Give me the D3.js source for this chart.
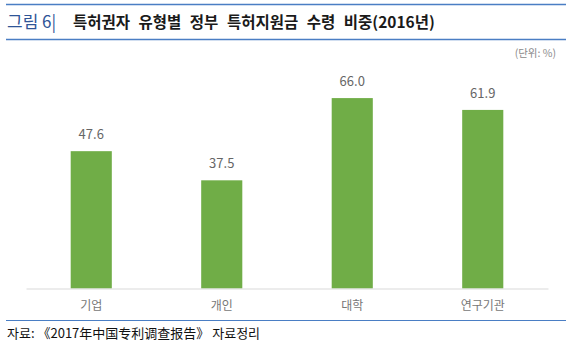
<!DOCTYPE html>
<html>
<head>
<meta charset="utf-8">
<script src="https://cdn.jsdelivr.net/npm/d3@7"></script>
<style>
  body { margin: 0; background: #fff; }
  text { font-family: "Noto Sans CJK KR", "Noto Sans", sans-serif; }
</style>
</head>
<body>
<div id="chart"></div>
<script>
var categories = ["기업", "개인", "대학", "연구기관"];
var values = [47.6, 37.5, 66.0, 61.9];
var titleLead = "그림 6|";
var titleText = "특허권자 유형별 정부 특허지원금 수령 비중(2016년)";
var unitText = "(단위: %)";
var sourceText = "자료: 《2017年中国专利调查报告》 자료정리";

var width = 574, height = 350;
var svg = d3.select("#chart").append("svg")
  .attr("width", width)
  .attr("height", height);

// header lines + title
svg.append("line").attr("x1", 6).attr("x2", 566).attr("y1", 4.5).attr("y2", 4.5)
  .attr("stroke", "#4a7ec4").attr("stroke-width", 1.5);
svg.append("line").attr("x1", 6).attr("x2", 566).attr("y1", 39.5).attr("y2", 39.5)
  .attr("stroke", "#4a7ec4").attr("stroke-width", 1.5);

svg.append("text").attr("x", 7).attr("y", 28).attr("font-size", 17)
  .attr("fill", "#2f5597").text(titleLead);
svg.append("text").attr("x", 73).attr("y", 28).attr("font-size", 15.5)
  .attr("font-weight", "bold").attr("fill", "#1a1a1a")
  .attr("word-spacing", 5).text(titleText);

svg.append("text").attr("x", 556).attr("y", 57).attr("text-anchor", "end")
  .attr("font-size", 10.5).attr("fill", "#8a8a8a").text(unitText);

// scales
var x = d3.scaleBand().domain(categories).range([26, 548]).paddingInner(0.685).paddingOuter(0.3425);
var y = d3.scaleLinear().domain([0, 100]).range([288.5, 0]);

var g = svg.append("g");

g.selectAll("rect.bar")
  .data(values)
  .enter()
  .append("rect")
  .attr("class", "bar")
  .attr("x", function(d, i) { return x(categories[i]); })
  .attr("width", x.bandwidth())
  .attr("y", function(d) { return y(d); })
  .attr("height", function(d) { return y(0) - y(d); })
  .attr("fill", "#70ad47");

g.selectAll("text.val")
  .data(values)
  .enter()
  .append("text")
  .attr("class", "val")
  .attr("x", function(d, i) { return x(categories[i]) + x.bandwidth() / 2; })
  .attr("y", function(d) { return y(d) - 12; })
  .attr("text-anchor", "middle")
  .attr("font-size", 13)
  .attr("fill", "#666")
  .text(function(d) { return d.toFixed(1); });

// x axis
var xAxis = g.append("g")
  .attr("transform", "translate(0," + y(0) + ")")
  .call(d3.axisBottom(x).tickSize(0).tickPadding(13));
xAxis.select(".domain").attr("stroke", "#d9d9d9").attr("stroke-width", 1.2);
xAxis.selectAll("text").attr("font-size", 12).attr("fill", "#777")
  .attr("font-family", "\"Noto Sans CJK KR\", sans-serif");

// footer
svg.append("line").attr("x1", 6).attr("x2", 566).attr("y1", 320.5).attr("y2", 320.5)
  .attr("stroke", "#4a7ec4").attr("stroke-width", 1.2);
svg.append("text").attr("x", 7).attr("y", 338).attr("font-size", 13)
  .attr("fill", "#111").text(sourceText);
</script>
</body>
</html>
